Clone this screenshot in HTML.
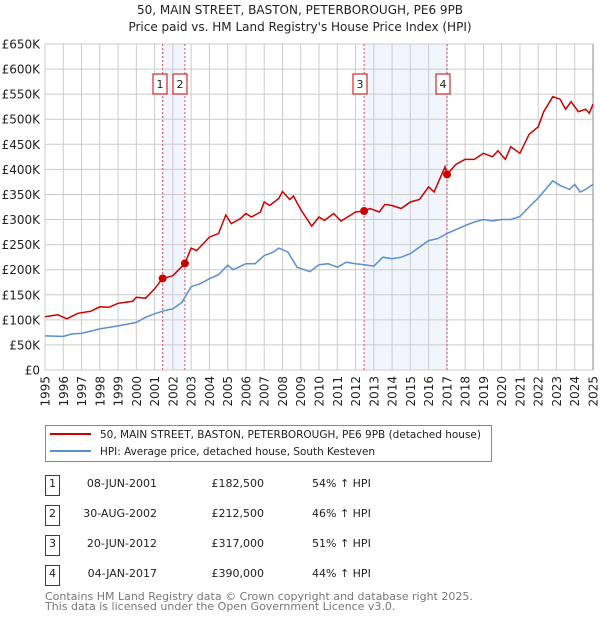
<!DOCTYPE html>
<html><head><meta charset="utf-8"><style>
body{margin:0;background:#fff;font-family:"DejaVu Sans","Liberation Sans",sans-serif;}
#wrap{position:relative;width:600px;height:620px;overflow:hidden}
svg text{font-family:"DejaVu Sans","Liberation Sans",sans-serif}
</style></head><body><div id="wrap">
<svg id="chart" width="600" height="620"></svg>
</div>
<script>
const hpiYears=[1995,1996,1996.5,1997,1998,1999,2000,2000.5,2001,2001.5,2002,2002.5,2003,2003.5,2004,2004.5,2005,2005.3,2006,2006.5,2007,2007.5,2007.8,2008.3,2008.8,2009.5,2010,2010.5,2011,2011.5,2012,2012.5,2013,2013.5,2014,2014.5,2015,2015.5,2016,2016.5,2017,2017.5,2018,2018.5,2019,2019.5,2020,2020.5,2021,2021.5,2022,2022.8,2023.2,2023.7,2024,2024.3,2024.6,2025];
const hpiValues=[68,67,72,73,82,88,95,105,112,118,122,135,166,172,182,190,209,200,212,212,228,235,243,235,205,196,210,212,205,215,212,210,207,225,222,225,232,245,258,262,272,280,288,295,300,297,300,300,306,325,343,377,368,360,370,355,360,370];
const propYears=[1995,1995.7,1996.2,1996.8,1997.5,1998,1998.5,1999,1999.8,2000,2000.5,2001,2001.44,2002,2002.66,2003,2003.3,2004,2004.5,2004.9,2005.2,2005.7,2006,2006.3,2006.8,2007,2007.3,2007.8,2008,2008.4,2008.6,2009,2009.6,2010,2010.3,2010.8,2011.2,2011.7,2012,2012.47,2012.8,2013.3,2013.6,2014,2014.5,2015,2015.5,2016,2016.3,2016.9,2017.01,2017.5,2018,2018.5,2019,2019.5,2019.8,2020.2,2020.5,2021,2021.5,2022,2022.3,2022.8,2023.2,2023.5,2023.8,2024.2,2024.6,2024.8,2025];
const propValues=[106,110,102,113,117,126,125,133,137,145,143,162,182.5,188,212.5,243,238,265,272,309,292,302,312,305,315,335,328,342,356,340,347,320,287,305,298,312,297,308,315,317,322,315,330,328,322,335,340,365,355,405,390,410,420,420,432,425,437,420,445,432,470,485,515,545,540,520,535,515,520,512,530];
const saleYears=[2001.44,2002.66,2012.47,2017.01];
const saleValues=[182.5,212.5,317,390];
const saleLabels=["1","2","3","4"];
const yTicks=[0,50,100,150,200,250,300,350,400,450,500,550,600,650];
const yTickLabels=["£0","£50K","£100K","£150K","£200K","£250K","£300K","£350K","£400K","£450K","£500K","£550K","£600K","£650K"];
const xTicks=[1995,1996,1997,1998,1999,2000,2001,2002,2003,2004,2005,2006,2007,2008,2009,2010,2011,2012,2013,2014,2015,2016,2017,2018,2019,2020,2021,2022,2023,2024,2025];
const tableDates=["08-JUN-2001","30-AUG-2002","20-JUN-2012","04-JAN-2017"];
const tablePrices=["£182,500","£212,500","£317,000","£390,000"];
const tablePcts=["54% ↑ HPI","46% ↑ HPI","51% ↑ HPI","44% ↑ HPI"];

const L=45,R=593,T=44,B=370;
const xs=y=>L+(y-1995)/30*(R-L);
const ys=v=>B-v/650*(B-T);
const svg=document.getElementById('chart');
const NS='http://www.w3.org/2000/svg';
function mk(tag,at,txt){const e=document.createElementNS(NS,tag);for(const k in at)e.setAttribute(k,at[k]);if(txt!==undefined)e.textContent=txt;svg.appendChild(e);return e;}

let t=mk('text',{x:300,y:14,'text-anchor':'middle','font-size':12,fill:'#222'},'50, MAIN STREET, BASTON, PETERBOROUGH, PE6 9PB');


t=mk('text',{x:300,y:31,'text-anchor':'middle','font-size':12,fill:'#222'},"Price paid vs. HM Land Registry's House Price Index (HPI)");



for(let i=0;i<4;i+=2){
  const r=mk('rect',{x:xs(saleYears[i]),y:T,width:xs(saleYears[i+1])-xs(saleYears[i]),height:B-T,fill:'#eef3fd',opacity:0.8});
  
  
}
yTicks.forEach((v,i)=>{
  const g=mk('line',{x1:L,x2:R,y1:ys(v),y2:ys(v),stroke:'#cccccc','stroke-width':1});
  
  
  const l=mk('text',{x:40,y:ys(v)+4.5,'text-anchor':'end','font-size':12,fill:'#222'},yTickLabels[i]);
  
  
});
xTicks.forEach(y=>{
  const g=mk('line',{x1:xs(y),x2:xs(y),y1:T,y2:B,stroke:'#cccccc','stroke-width':1});
  
  
  const l=mk('text',{x:0,y:0,'text-anchor':'end','font-size':12,fill:'#222',transform:`translate(${xs(y)+4.5},${B+6}) rotate(-90)`},String(y));
  
  
});
const ax=mk('line',{x1:R,x2:R,y1:T,y2:B,stroke:'#888','stroke-width':1});



saleYears.forEach(y=>{
  const v=mk('line',{x1:xs(y),x2:xs(y),y1:T,y2:B,stroke:'#e05050','stroke-width':1,'stroke-dasharray':'2,2'});
  
  
});
function path(xa,va){return xa.map((x,i)=>(i?'L':'M')+xs(x).toFixed(1)+','+ys(va[i]).toFixed(1)).join('');}
const hp=mk('path',{d:path(hpiYears,hpiValues),fill:'none',stroke:'#5b8fd0','stroke-width':1.5});


const pp=mk('path',{d:path(propYears,propValues),fill:'none',stroke:'#cc0000','stroke-width':1.5});


saleYears.forEach((y,i)=>{
  const c=mk('circle',{cx:xs(y),cy:ys(saleValues[i]),r:4,fill:'#cc0000'});
  
  
});
const boxX=[153,173,353,436];
saleLabels.forEach((s,i)=>{
  const r=mk('rect',{x:boxX[i],y:74,width:14,height:20,fill:'#fff',stroke:'#cc0000','stroke-width':1});
  
  
  const tx=mk('text',{x:boxX[i]+7,y:88,'text-anchor':'middle','font-size':11,fill:'#222'},s);
  
  
});
let lg=mk('rect',{x:45.5,y:425.5,width:446,height:36,fill:'#fff',stroke:'#888','stroke-width':1});


lg=mk('line',{x1:50,x2:91,y1:434,y2:434,stroke:'#cc0000','stroke-width':2});


lg=mk('text',{x:100,y:438,'font-size':10.5,fill:'#222',textLength:381,lengthAdjust:'spacingAndGlyphs'},'50, MAIN STREET, BASTON, PETERBOROUGH, PE6 9PB (detached house)');


lg=mk('line',{x1:50,x2:91,y1:451,y2:451,stroke:'#5b8fd0','stroke-width':2});


lg=mk('text',{x:100,y:455,'font-size':10.5,fill:'#222',textLength:275,lengthAdjust:'spacingAndGlyphs'},'HPI: Average price, detached house, South Kesteven');


saleLabels.forEach((s,i)=>{
  const y=486+i*30;
  let e=mk('rect',{x:45.5,y:y-10.5,width:14,height:20,fill:'#fff',stroke:'#cc0000','stroke-width':1});
  
  
  e=mk('text',{x:52.5,y:y+1,'text-anchor':'middle','font-size':11,fill:'#222'},s);
  
  
  e=mk('text',{x:157,y:y+1,'text-anchor':'end','font-size':11,fill:'#222'},tableDates[i]);
  
  
  e=mk('text',{x:264,y:y+1,'text-anchor':'end','font-size':11,fill:'#222'},tablePrices[i]);
  
  
  e=mk('text',{x:312,y:y+1,'font-size':11,fill:'#222'},tablePcts[i]);
  
  
});
let f=mk('text',{x:45,y:600,'font-size':11,fill:'#777'},'Contains HM Land Registry data © Crown copyright and database right 2025.');


f=mk('text',{x:45,y:610,'font-size':11,fill:'#777'},'This data is licensed under the Open Government Licence v3.0.');


</script></body></html>
